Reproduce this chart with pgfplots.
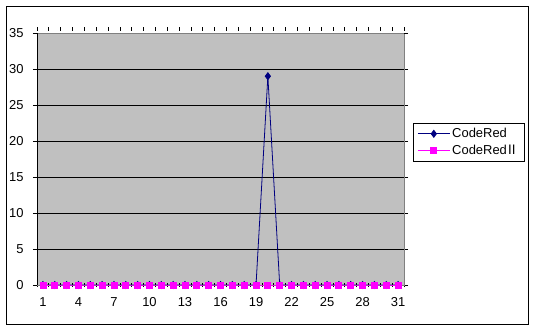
\documentclass[border=0pt]{standalone}
\usepackage{fontspec}
\setmainfont{Liberation Sans}
\newfontfamily\cjk{Noto Sans CJK JP}
\usepackage{pgfplots}
\pgfplotsset{compat=1.18}
\definecolor{plotgray}{HTML}{C0C0C0}
\definecolor{navy}{HTML}{000080}
\definecolor{mag}{HTML}{FF00FF}
\begin{document}
\begin{tikzpicture}[x=1bp,y=1bp]
\useasboundingbox (0,0) rectangle (535,331);
\fill[white] (0,0) rectangle (535,331);
\draw[black, line width=1bp] (6.5,7) rectangle (528,324.5);
\begin{axis}[at={(37bp,46bp)}, anchor=south west, scale only axis,
  width=367bp, height=252bp,
  xmin=0.5, xmax=31.5, ymin=0, ymax=35,
  axis background/.style={fill=plotgray},
  axis line style={draw=gray, line width=0.8bp},
  font=\fontsize{13}{15}\selectfont,
  /pgf/number format/assume math mode=true,
  ytick={0,5,...,30}, extra y ticks={35}, extra tick style={grid=none},
  ymajorgrids, major grid style={black, line width=0.8bp},
  xtick={1,4,...,31},
  minor xtick={0.5,1.5,...,31.5},
  every major x tick/.style={draw=none},
  minor tick length=4bp, major tick length=4bp,
  tick align=outside,
  every minor tick/.style={black, line width=0.7bp, yshift=2bp},
  tick style={black},
  xticklabel style={yshift=-5bp},
  yticklabel style={xshift=-6bp},
  legend style={at={(1.0245,0.643)}, anchor=north west, draw=black, line width=0.8bp,
    fill=white, font=\fontsize{13}{15}\selectfont, inner xsep=4bp, inner ysep=3bp,
    row sep=2bp, /tikz/every even column/.append style={column sep=5bp}},
  legend cell align=left,
  legend image code/.code={\draw[mark repeat=2,mark phase=2,#1] plot coordinates {(0bp,0bp) (16bp,0bp) (32bp,0bp)};},
  clip=false,
]
\addplot[navy, line width=0.8bp, mark=diamond*, mark size=3.5bp, mark options={fill=navy, draw=navy}] coordinates {
(1,0)(2,0)(3,0)(4,0)(5,0)(6,0)(7,0)(8,0)(9,0)(10,0)(11,0)(12,0)(13,0)(14,0)(15,0)(16,0)(17,0)(18,0)(19,0)(20,29)(21,0)(22,0)(23,0)(24,0)(25,0)(26,0)(27,0)(28,0)(29,0)(30,0)(31,0)};
\addlegendentry{CodeRed}
\addplot[mag, line width=0.8bp, mark=square*, mark size=3bp, mark options={fill=mag, draw=mag}] coordinates {
(1,0)(2,0)(3,0)(4,0)(5,0)(6,0)(7,0)(8,0)(9,0)(10,0)(11,0)(12,0)(13,0)(14,0)(15,0)(16,0)(17,0)(18,0)(19,0)(20,0)(21,0)(22,0)(23,0)(24,0)(25,0)(26,0)(27,0)(28,0)(29,0)(30,0)(31,0)};
\addlegendentry{CodeRed\kern-1.5bp{\cjk Ⅱ}}
\draw[black, line width=0.8bp] (rel axis cs:0,0) -- (rel axis cs:0,1);
\end{axis}
\end{tikzpicture}
\end{document}
